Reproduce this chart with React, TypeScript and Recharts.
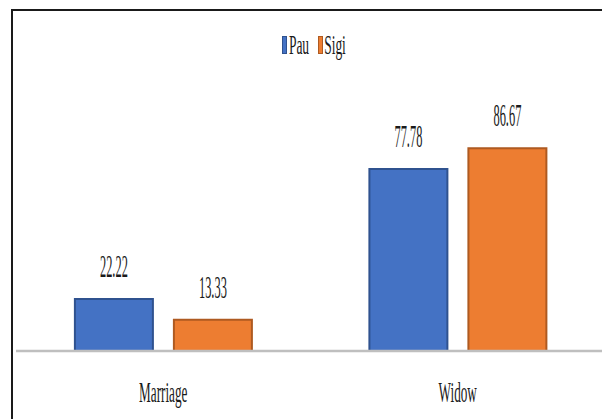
import React from "react";
import { BarChart, Bar, XAxis, YAxis, LabelList } from "recharts";

const categories = ["Marriage", "Widow"];
const pauValues = [22.22, 77.78];
const sigiValues = [13.33, 86.67];

const BLUE = "#4472C4";
const BLUE_EDGE = "#2F528F";
const ORANGE = "#ED7D31";
const ORANGE_EDGE = "#AE5A21";
const TEXT = "#1a1a1a";
const FONT = "Liberation Serif, Times New Roman, DejaVu Serif, serif";

const chartData = categories.map((name, i) => ({
  name,
  pau: pauValues[i],
  sigi: sigiValues[i],
}));

const series = [
  { key: "pau", label: "Pau", fill: BLUE, edge: BLUE_EDGE },
  { key: "sigi", label: "Sigi", fill: ORANGE, edge: ORANGE_EDGE },
];

// narrow serif text: the original is squeezed horizontally
function NarrowText({ x, y, text, size, sx }: any) {
  return (
    <text
      transform={`translate(${x},${y}) scale(${sx},1)`}
      textAnchor="middle"
      style={{ fontFamily: FONT, fontSize: size, fill: TEXT }}
    >
      {text}
    </text>
  );
}

function CategoryTick(props: any) {
  const { x, y, payload } = props;
  return <NarrowText x={x} y={y + 43} text={payload.value} size={30} sx={0.44} />;
}

function ValueLabel(props: any) {
  const { x, y, width, value } = props;
  return (
    <NarrowText
      x={Number(x) + Number(width) / 2}
      y={Number(y) - 22}
      text={Number(value).toFixed(2)}
      size={31}
      sx={0.4}
    />
  );
}

function ChartLegend() {
  return (
    <div
      style={{
        position: "absolute",
        top: 36,
        left: 21,
        width: 584,
        display: "flex",
        justifyContent: "center",
        gap: 9,
      }}
    >
      {series.map((s) => (
        <div key={s.key} style={{ display: "flex", alignItems: "flex-start", gap: 2 }}>
          <span
            style={{
              display: "inline-block",
              width: 3,
              height: 16,
              background: s.fill,
              border: `1px solid ${s.edge}`,
            }}
          />
          <svg width={20} height={22} style={{ display: "block", overflow: "visible" }}>
            <NarrowText x={10} y={18} text={s.label} size={27} sx={0.5} />
          </svg>
        </div>
      ))}
    </div>
  );
}

export default function App() {
  return (
    <div
      style={{
        position: "absolute",
        left: 0,
        top: 0,
        width: 602,
        height: 419,
        overflow: "hidden",
        background: "#fff",
      }}
    >
      <div style={{ position: "absolute", left: 0, top: 0 }}>
        <BarChart
          width={610}
          height={419}
          data={chartData}
          margin={{ top: 117, right: 5, bottom: 28, left: 16 }}
          barCategoryGap="20%"
          barGap={21}
        >
          <XAxis
            dataKey="name"
            axisLine={{ stroke: "#BFBFBF", strokeWidth: 2.5 }}
            tickLine={false}
            tick={<CategoryTick />}
            height={40}
            interval={0}
          />
          <YAxis hide domain={[0, 100]} />
          {series.map((s) => (
            <Bar
              key={s.key}
              dataKey={s.key}
              name={s.label}
              fill={s.fill}
              stroke={s.edge}
              strokeWidth={2}
              isAnimationActive={false}
            >
              <LabelList dataKey={s.key} content={<ValueLabel />} />
            </Bar>
          ))}
        </BarChart>
      </div>
      <ChartLegend />
      <div
        style={{
          position: "absolute",
          left: 11,
          top: 9,
          width: 700,
          height: 500,
          border: "2px solid #1a1a1a",
          pointerEvents: "none",
        }}
      />
    </div>
  );
}
